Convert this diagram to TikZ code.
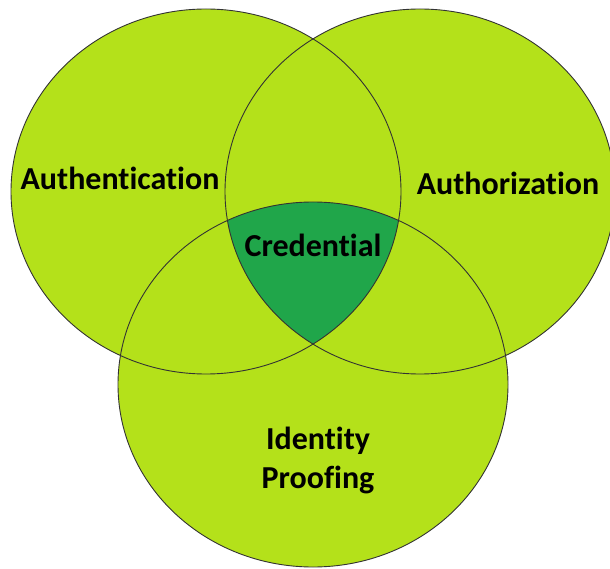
\documentclass[tikz,border=0pt]{standalone}
\usepackage{fontspec}
\setmainfont{Carlito}[Ligatures={NoCommon}]
\definecolor{lightgreen}{HTML}{B4E11A}
\definecolor{darkgreen}{HTML}{20A64A}
\definecolor{rim}{HTML}{333333}
\begin{document}
\begin{tikzpicture}[x=1pt,y=-1pt,
  lbl/.style={font=\bfseries\fontsize{32}{39}\selectfont, text=black, align=center, inner sep=0pt},
  rimline/.style={draw=rim, line width=0.9pt}]
\useasboundingbox (0,0) rectangle (610,569);
\clip (0,0) rectangle (610,569);
\def\rx{195}\def\ry{182.5}
% fills
\fill[lightgreen] (206,191.5) ellipse [x radius=\rx, y radius=\ry];
\fill[lightgreen] (420,191.5) ellipse [x radius=\rx, y radius=\ry];
\fill[lightgreen] (313,384.5) ellipse [x radius=\rx, y radius=\ry];
\begin{scope}
  \clip (206,191.5) ellipse [x radius=\rx, y radius=\ry];
  \clip (420,191.5) ellipse [x radius=\rx, y radius=\ry];
  \fill[darkgreen] (313,384.5) ellipse [x radius=\rx, y radius=\ry];
\end{scope}
% outlines
\path[rimline] (206,191.5) ellipse [x radius=\rx, y radius=\ry];
\path[rimline] (420,191.5) ellipse [x radius=\rx, y radius=\ry];
\path[rimline] (313,384.5) ellipse [x radius=\rx, y radius=\ry];
% labels
\node[lbl] (authn) at (120,178) {Authentication};
\node[lbl] (authz) at (508,183) {Authorization};
\node[lbl] (cred) at (313,245) {Credential};
\node[lbl] (idp) at (318,460) {Identity\\Proofing};
\end{tikzpicture}
\end{document}
